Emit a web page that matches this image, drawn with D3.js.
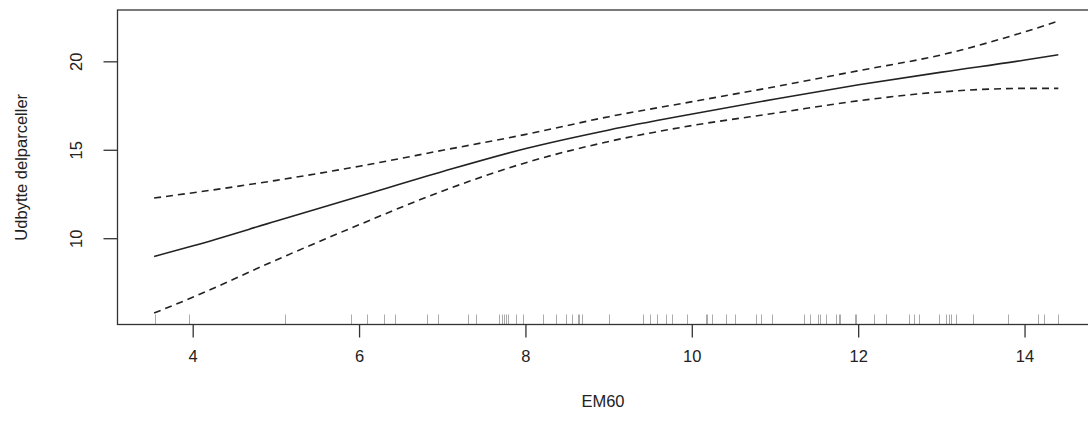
<!DOCTYPE html>
<html>
<head>
<meta charset="utf-8">
<script src="https://cdn.jsdelivr.net/npm/d3@7"></script>
<style>
  body { margin: 0; background: #fff; }
  svg { display: block; }
  text { font-family: "Liberation Sans", Arial, sans-serif; fill: #222; }
</style>
</head>
<body>
<div id="chart"></div>
<script>
// smooth fit and its confidence band
var emX   = [3.53, 4, 5, 6, 7, 8, 9, 10, 11, 12, 13, 14, 14.4];
var fit   = [9.0, 9.6, 11.0, 12.4, 13.8, 15.1, 16.15, 17.05, 17.9, 18.7, 19.42, 20.1, 20.4];
var upper = [12.3, 12.6, 13.3, 14.1, 15.0, 15.9, 16.9, 17.75, 18.6, 19.5, 20.4, 21.7, 22.3];
var lower = [5.8, 6.7, 8.8, 10.8, 12.7, 14.3, 15.5, 16.4, 17.1, 17.8, 18.3, 18.5, 18.5];

// rug of observed EM60 values
var rugX = [3.54, 3.95, 5.10, 5.90, 6.09, 6.29, 6.43, 6.81, 6.94, 7.30, 7.40, 7.68, 7.71,
  7.74, 7.76, 7.78, 7.88, 7.97, 8.21, 8.36, 8.48, 8.55, 8.62, 8.64, 8.67, 9.00, 9.41,
  9.49, 9.58, 9.68, 9.75, 9.94, 10.17, 10.18, 10.24, 10.41, 10.51, 10.77, 10.83, 10.96,
  11.34, 11.41, 11.51, 11.54, 11.61, 11.73, 11.76, 11.78, 11.95, 11.97, 12.19, 12.33,
  12.60, 12.66, 12.72, 12.96, 13.05, 13.09, 13.11, 13.17, 13.37, 13.80, 14.16, 14.23, 14.40];

var xTicks = [4, 6, 8, 10, 12, 14];
var yTicks = [10, 15, 20];
var xTitle = "EM60";
var yTitle = "Udbytte delparceller";

var W = 1088, H = 443;
var box = {left: 117.5, right: 1094.5, top: 10, bottom: 324.5};

var svg = d3.select("#chart").append("svg")
  .attr("width", W)
  .attr("height", H);

var x = d3.scaleLinear().domain([3.09, 14.835]).range([box.left, box.right]);
var y = d3.scaleLinear().domain([5.15, 22.93]).range([box.bottom, box.top]);

function series(vals) {
  return emX.map(function(v, i) { return {x: v, y: vals[i]}; });
}

var line = d3.line()
  .x(function(d) { return x(d.x); })
  .y(function(d) { return y(d.y); })
  .curve(d3.curveMonotoneX);

// rug
svg.append("g").selectAll("line")
  .data(rugX)
  .enter().append("line")
  .attr("x1", function(d) { return Math.round(x(d)) + 0.5; })
  .attr("x2", function(d) { return Math.round(x(d)) + 0.5; })
  .attr("y1", box.bottom)
  .attr("y2", box.bottom - 10)
  .attr("stroke", "#aaa")
  .attr("stroke-width", 1);

// curves
svg.append("path")
  .datum(series(fit))
  .attr("d", line)
  .attr("fill", "none")
  .attr("stroke", "#222")
  .attr("stroke-width", 1.6);

[upper, lower].forEach(function(s) {
  svg.append("path")
    .datum(series(s))
    .attr("d", line)
    .attr("fill", "none")
    .attr("stroke", "#222")
    .attr("stroke-width", 1.6)
    .attr("stroke-dasharray", "7,5");
});

// box
svg.append("rect")
  .attr("x", box.left)
  .attr("y", box.top)
  .attr("width", box.right - box.left)
  .attr("height", box.bottom - box.top)
  .attr("fill", "none")
  .attr("stroke", "#333")
  .attr("stroke-width", 1.3);

// x axis
var xAxis = svg.append("g");
xAxis.selectAll("line").data(xTicks).enter().append("line")
  .attr("x1", function(d) { return x(d); })
  .attr("x2", function(d) { return x(d); })
  .attr("y1", box.bottom)
  .attr("y2", box.bottom + 13)
  .attr("stroke", "#333")
  .attr("stroke-width", 1.3);
xAxis.selectAll("text").data(xTicks).enter().append("text")
  .attr("x", function(d) { return x(d); })
  .attr("y", 362)
  .attr("text-anchor", "middle")
  .style("font-size", "16.5px")
  .text(function(d) { return d; });

// y axis
var yAxis = svg.append("g");
yAxis.selectAll("line").data(yTicks).enter().append("line")
  .attr("x1", box.left)
  .attr("x2", box.left - 14)
  .attr("y1", function(d) { return y(d); })
  .attr("y2", function(d) { return y(d); })
  .attr("stroke", "#333")
  .attr("stroke-width", 1.3);
yAxis.selectAll("text").data(yTicks).enter().append("text")
  .attr("transform", function(d) { return "translate(82," + y(d) + ") rotate(-90)"; })
  .attr("text-anchor", "middle")
  .style("font-size", "16.5px")
  .text(function(d) { return d; });

// titles
svg.append("text")
  .attr("x", (box.left + box.right) / 2 - 3)
  .attr("y", 407)
  .attr("text-anchor", "middle")
  .style("font-size", "16.5px")
  .text(xTitle);

svg.append("text")
  .attr("transform", "translate(27," + ((box.top + box.bottom) / 2) + ") rotate(-90)")
  .attr("text-anchor", "middle")
  .style("font-size", "16.5px")
  .text(yTitle);
</script>
</body>
</html>
